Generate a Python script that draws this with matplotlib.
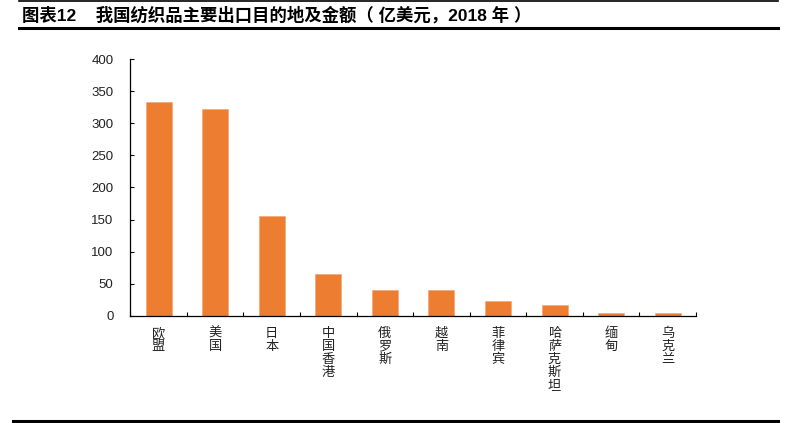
import matplotlib
matplotlib.use("Agg")
import matplotlib.pyplot as plt
from matplotlib.lines import Line2D
from matplotlib.ticker import FixedLocator

plt.rcParams['font.family'] = ['Liberation Sans', 'Noto Sans CJK SC', 'DejaVu Sans']

# data: export destinations, 100 million USD, 2018
countries = ["欧盟", "美国", "日本", "中国香港", "俄罗斯", "越南", "菲律宾", "哈萨克斯坦", "缅甸", "乌克兰"]
values = [333.5, 322.5, 156, 65.5, 40.5, 40.5, 23.5, 17, 4, 4]
y_ticks = [0, 50, 100, 150, 200, 250, 300, 350, 400]

title = "图表12    我国纺织品主要出口目的地及金额（ 亿美元，2018 年 ）"

fig = plt.figure(figsize=(7.87, 4.23), dpi=100)
ax = fig.add_axes([0.1655, 0.253, 0.7189, 0.6075])

x = list(range(len(countries)))
ax.bar(x, values, width=0.46, color="#ED7D31", edgecolor="#F4A77A", linewidth=0.5)

ax.set_xlim(-0.5, len(countries) - 0.5)
ax.set_ylim(0, 400)
ax.set_yticks(y_ticks)
ax.set_yticklabels([str(v) for v in y_ticks], fontsize=9.5, color="#222222")

ax.set_xticks(x)
ax.set_xticklabels(["\n".join(c) for c in countries], fontsize=9.5,
                   linespacing=1.0, va="top", color="#222222",
                   family=['Noto Sans CJK SC', 'DejaVu Sans'])
ax.tick_params(axis="x", which="major", length=0, pad=8)
ax.xaxis.set_minor_locator(FixedLocator([i - 0.5 for i in range(len(countries) + 1)]))
ax.tick_params(axis="x", which="minor", length=3, direction="in", width=0.8)
ax.tick_params(axis="y", length=3, direction="in", width=0.8, pad=12)

for s in ["top", "right"]:
    ax.spines[s].set_visible(False)
for s in ["left", "bottom"]:
    ax.spines[s].set_linewidth(0.9)

# header and footer rules
W, H = 787, 423
fig.add_artist(Line2D([19 / W, 778 / W], [1 - 1.5 / H, 1 - 1.5 / H], color="black", lw=1.2))
fig.add_artist(Line2D([19 / W, 778 / W], [1 - 28 / H, 1 - 28 / H], color="black", lw=2.2))
fig.add_artist(Line2D([13 / W, 778 / W], [1 - 420.5 / H, 1 - 420.5 / H], color="black", lw=2.2))

fig.text(22 / W, 1 - 15 / H, title, fontsize=12.5, fontweight="bold", va="center", ha="left")

fig.savefig("out.png", dpi=100)
